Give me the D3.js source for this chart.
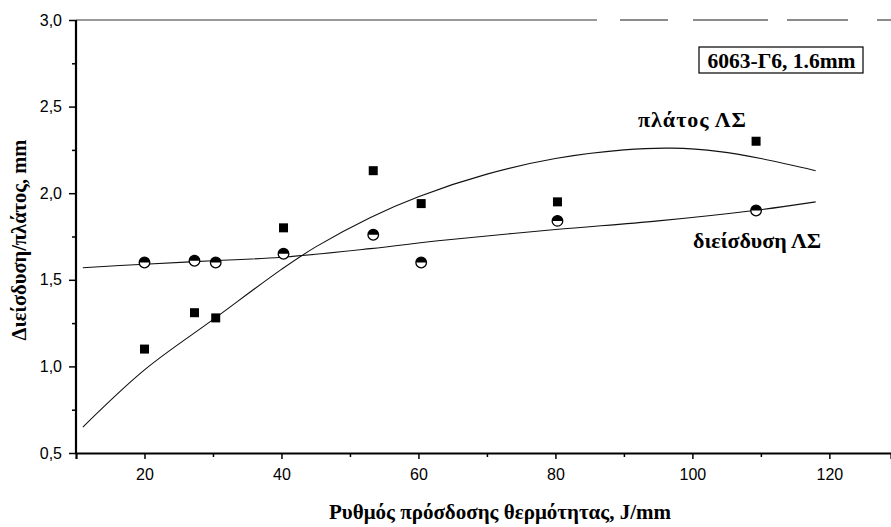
<!DOCTYPE html>
<html>
<head>
<meta charset="utf-8">
<script src="https://cdn.jsdelivr.net/npm/d3@7"></script>
<style>
  html, body { margin: 0; padding: 0; background: #fff; }
  svg { display: block; }
</style>
</head>
<body>
<svg id="chart" width="891" height="527"></svg>
<script>
// ---- data ----
const heatInput = [20, 27.3, 30.4, 40.3, 53.4, 60.4, 80.3, 109.3];          // J/mm
const widthValues = [1.10, 1.31, 1.28, 1.80, 2.13, 1.94, 1.95, 2.30];       // πλάτος ΛΣ (squares)
const penetrationValues = [1.60, 1.61, 1.60, 1.65, 1.76, 1.60, 1.84, 1.90]; // διείσδυση ΛΣ (half-filled circles)

// fitted curves, points
const widthFitX = [11, 20, 30, 40, 45, 53, 60, 70, 80, 90, 97, 104, 110, 118];
const widthFitY = [0.65, 0.98, 1.27, 1.56, 1.69, 1.86, 1.98, 2.11, 2.20, 2.25, 2.26, 2.24, 2.20, 2.13];
const penFitX = [11, 20, 30, 40, 53, 64, 80, 95, 109, 118];
const penFitY = [1.57, 1.59, 1.61, 1.63, 1.68, 1.73, 1.79, 1.84, 1.90, 1.95];

const xTicks = [20, 40, 60, 80, 100, 120];
const xMinorTicks = [30, 50, 70, 90, 110];
const yTicks = [0.5, 1.0, 1.5, 2.0, 2.5, 3.0];
const yMinorTicks = [0.75, 1.25, 1.75, 2.25, 2.75];

const xLabel = "Ρυθμός πρόσδοσης θερμότητας, J/mm";
const yLabel = "Διείσδυση/πλάτος, mm";
const boxLabel = "6063-Γ6, 1.6mm";
const widthLabel = "πλάτος ΛΣ";
const penLabel = "διείσδυση ΛΣ";

// ---- drawing ----
(function () {
const svg = d3.select("#chart");
const pLeft = 76, pRight = 891, pTop = 20, pBottom = 453;
const x = d3.scaleLinear().domain([10, 129]).range([pLeft, pRight]);
const y = d3.scaleLinear().domain([0.5, 3.0]).range([pBottom, pTop]);

const serif = "'Liberation Serif', 'DejaVu Serif', serif";
const sans = "'Liberation Sans', Arial, sans-serif";
const fmt = v => d3.format(".1f")(v).replace(".", ",");

// top frame (broken grey line as in the scan)
svg.append("line").attr("x1", pLeft).attr("x2", 597).attr("y1", y(3.0)).attr("y2", y(3.0))
  .attr("stroke", "#777").attr("stroke-width", 1.3);
svg.append("line").attr("x1", 620).attr("x2", pRight).attr("y1", y(3.0)).attr("y2", y(3.0))
  .attr("stroke", "#666").attr("stroke-width", 1.3)
  .attr("stroke-dasharray", "48,25,75,19,61,29,14");

// y axis
const yAxis = svg.append("g").attr("transform", `translate(${pLeft},0)`)
  .call(d3.axisLeft(y).tickValues(yTicks).tickFormat(fmt).tickSize(7).tickPadding(7));
svg.append("g").attr("transform", `translate(${pLeft},0)`)
  .call(d3.axisLeft(y).tickValues(yMinorTicks).tickFormat("").tickSize(4))
  .call(g => g.select(".domain").remove());

// x axis
svg.append("g").attr("transform", `translate(0,${pBottom})`)
  .call(d3.axisBottom(x).tickValues(xTicks).tickFormat(d3.format("d")).tickSize(6).tickPadding(10));
svg.append("g").attr("transform", `translate(0,${pBottom})`)
  .call(d3.axisBottom(x).tickValues(xMinorTicks).tickFormat("").tickSize(4))
  .call(g => g.select(".domain").remove());

svg.selectAll(".domain").attr("stroke", "#000").attr("stroke-width", 2.2);
svg.selectAll(".tick line").attr("stroke", "#000").attr("stroke-width", 1.5);
svg.selectAll(".tick text").attr("font-family", sans).attr("font-size", 16).attr("fill", "#000");
yAxis.select(".domain").attr("d", `M0,${pTop}V${pBottom}`);

// fitted curves
const line = d3.line().x(d => x(d[0])).y(d => y(d[1])).curve(d3.curveCatmullRom.alpha(0.5));
svg.append("path").datum(d3.zip(widthFitX, widthFitY)).attr("d", line)
  .attr("fill", "none").attr("stroke", "#111").attr("stroke-width", 1.1);
svg.append("path").datum(d3.zip(penFitX, penFitY)).attr("d", line)
  .attr("fill", "none").attr("stroke", "#111").attr("stroke-width", 1.1);

// squares
const sq = 9;
svg.append("g").selectAll("rect").data(d3.zip(heatInput, widthValues)).join("rect")
  .attr("x", d => x(d[0]) - sq / 2).attr("y", d => y(d[1]) - sq / 2)
  .attr("width", sq).attr("height", sq).attr("fill", "#000");

// half-filled circles
const r = 5.3;
const topHalf = d3.arc().innerRadius(0).outerRadius(r).startAngle(-Math.PI / 2).endAngle(Math.PI / 2);
const circles = svg.append("g").selectAll("g").data(d3.zip(heatInput, penetrationValues)).join("g")
  .attr("transform", d => `translate(${x(d[0])},${y(d[1])})`);
circles.append("circle").attr("r", r).attr("fill", "#fff").attr("stroke", "#000").attr("stroke-width", 1.3);
circles.append("path").attr("d", topHalf).attr("fill", "#000");

// axis titles
svg.append("text").attr("x", 500).attr("y", 519).attr("text-anchor", "middle")
  .attr("font-family", serif).attr("font-weight", "bold").attr("font-size", 21).text(xLabel);
svg.append("text").attr("transform", `translate(26,240) rotate(-90)`).attr("text-anchor", "middle")
  .attr("font-family", serif).attr("font-weight", "bold").attr("font-size", 20.5).text(yLabel);

// curve labels
svg.append("text").attr("x", 638).attr("y", 127)
  .attr("font-family", serif).attr("font-weight", "bold").attr("font-size", 22)
  .attr("letter-spacing", 1).text(widthLabel);
svg.append("text").attr("x", 693).attr("y", 248)
  .attr("font-family", serif).attr("font-weight", "bold").attr("font-size", 22).text(penLabel);

// annotation box
svg.append("rect").attr("x", 699).attr("y", 47).attr("width", 164).attr("height", 26)
  .attr("fill", "#fff").attr("stroke", "#000").attr("stroke-width", 1.2);
svg.append("text").attr("x", 781.5).attr("y", 67.5).attr("text-anchor", "middle")
  .attr("font-family", serif).attr("font-weight", "bold").attr("font-size", 21.5).text(boxLabel);
})();
</script>
</body>
</html>
